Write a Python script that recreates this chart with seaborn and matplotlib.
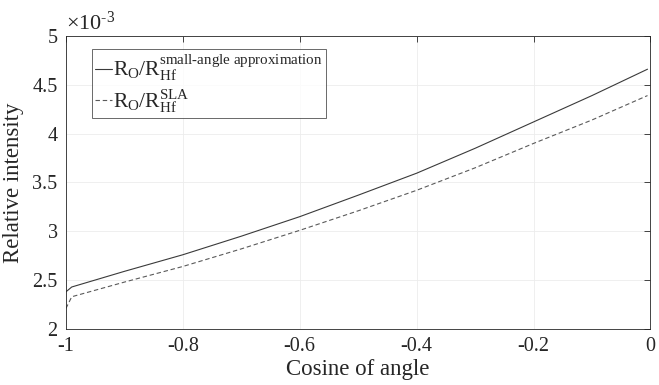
import numpy as np
import pandas as pd
import matplotlib
matplotlib.use("Agg")
import matplotlib.pyplot as plt
import seaborn as sns

# cosine of angle
x_vals = [-1.0, -0.99, -0.9, -0.8, -0.7, -0.6, -0.5, -0.4, -0.3, -0.2, -0.1, -0.005]
# relative intensity, in units of 1e-3
r_small_angle = [2.38, 2.43, 2.59, 2.76, 2.95, 3.15, 3.37, 3.595, 3.85, 4.12, 4.39, 4.66]
r_sla = [2.21, 2.33, 2.48, 2.64, 2.82, 3.01, 3.21, 3.42, 3.65, 3.90, 4.14, 4.39]

x_ticks = [-1, -0.8, -0.6, -0.4, -0.2, 0]
x_ticklabels = ["-1", "-0.8", "-0.6", "-0.4", "-0.2", "0"]
y_ticks = [2, 2.5, 3, 3.5, 4, 4.5, 5]
y_ticklabels = ["2", "2.5", "3", "3.5", "4", "4.5", "5"]

sns.set_style("white")
plt.rcParams["font.family"] = ["Liberation Serif", "DejaVu Serif"]
plt.rcParams["mathtext.fontset"] = "custom"
plt.rcParams["mathtext.rm"] = "Liberation Serif"
plt.rcParams["mathtext.it"] = "Liberation Serif:italic"

df = pd.DataFrame({"x": x_vals, "small": r_small_angle, "sla": r_sla})

fig = plt.figure(figsize=(6.59, 3.85), dpi=100)
ax = fig.add_axes([0.1, 0.1455, 0.887, 0.761])

sns.lineplot(data=df, x="x", y="small", ax=ax, color="#3a3a3a", lw=0.8,
             label=r"R$_{\rm O}$/R$_{\rm Hf}^{\rm small\text{-}angle\ approximation}$")
sns.lineplot(data=df, x="x", y="sla", ax=ax, color="#5a5a5a", lw=0.8,
             linestyle=(0, (4, 2.5)),
             label=r"R$_{\rm O}$/R$_{\rm Hf}^{\rm SLA}$")

ax.set_xlim(-1, 0)
ax.set_ylim(2, 5)
ax.set_xticks(x_ticks)
ax.set_xticklabels(x_ticklabels)
ax.set_yticks(y_ticks)
ax.set_yticklabels(y_ticklabels)
ax.tick_params(direction="in", length=4, width=0.6, color="#262626",
               labelsize=14.5, top=True, right=True, pad=6)
ax.grid(True, color="#ececec", lw=0.6)
for s in ax.spines.values():
    s.set_color("#262626")
    s.set_linewidth(0.6)
ax.set_xlabel("Cosine of angle", fontsize=16.5, labelpad=2)
ax.set_ylabel("Relative intensity", fontsize=16.5, labelpad=6)
ax.text(0.0, 1.005, r"$\times$10$^{\text{-}3}$", transform=ax.transAxes,
        fontsize=16, ha="left", va="bottom")

leg = ax.legend(loc="upper left", bbox_to_anchor=(0.044, 0.955), fontsize=15.5,
                handlelength=0.8, handletextpad=0.05, borderpad=0.15,
                labelspacing=0.2, frameon=True, fancybox=False,
                borderaxespad=0)
leg.get_frame().set_edgecolor("#262626")
leg.get_frame().set_linewidth(0.6)

fig.savefig("out.png", dpi=100)
